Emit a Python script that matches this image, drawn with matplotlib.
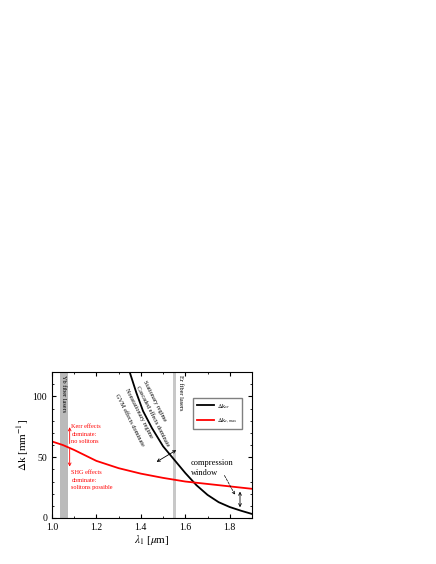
import numpy as np
import matplotlib.pyplot as plt
from matplotlib.ticker import MultipleLocator

plt.rcParams['font.family'] = ['Liberation Serif', 'DejaVu Serif']
plt.rcParams['mathtext.fontset'] = 'stix'

# data
lam_sr = [1.35, 1.38, 1.41, 1.45, 1.50, 1.55, 1.60, 1.65, 1.70, 1.75, 1.80, 1.85, 1.90]
dk_sr = [120, 103, 88, 74, 59, 48, 37, 27, 19, 13, 9, 6, 3.3]
lam_c = [1.00, 1.05, 1.10, 1.20, 1.30, 1.40, 1.50, 1.60, 1.70, 1.80, 1.90]
dk_c = [63, 60, 56, 47, 41, 36.5, 33, 30, 28, 26, 24]

fig = plt.figure(figsize=(4.36, 5.64), dpi=100)
ax = fig.add_axes([0.119, 0.0816, 0.459, 0.2585])

# fiber laser bands
ax.axvspan(1.035, 1.072, color='#bbbbbb', lw=0)
ax.axvspan(1.545, 1.558, color='#c8c8c8', lw=0)
ax.text(1.053, 118, 'Yb fiber lasers', rotation=-90, va='top', ha='center', fontsize=4.5)
ax.text(1.578, 118, 'Er fiber lasers', rotation=-90, va='top', ha='center', fontsize=4.5)

ax.plot(lam_sr, dk_sr, color='black', lw=1.3, label=r'$\Delta$k$_{sr}$')
ax.plot(lam_c, dk_c, color='red', lw=1.3, label=r'$\Delta$k$_{c,max}$')

# Kerr / SHG annotations
ax.annotate('', xy=(1.08, 77), xytext=(1.08, 59),
            arrowprops=dict(arrowstyle='->', color='red', lw=0.6, mutation_scale=5))
ax.annotate('', xy=(1.08, 40), xytext=(1.08, 59),
            arrowprops=dict(arrowstyle='->', color='red', lw=0.6, mutation_scale=5))
ax.text(1.088, 69, 'Kerr effects\ndominate:\nno solitons', color='red',
        fontsize=4.5, va='center', linespacing=1.6)
ax.text(1.088, 31, 'SHG effects\ndominate:\nsolitons possible', color='red',
        fontsize=4.5, va='center', linespacing=1.6)

# regime labels along the curve
for x, y, s in [(1.462, 96, 'Stationary regime'),
                (1.452, 84, 'Cascaded effects dominate'),
                (1.39, 86.5, 'Nonstationary regime'),
                (1.347, 80.5, 'GVM effects dominate')]:
    ax.text(x, y, s, rotation=-63, fontsize=4.5, ha='center', va='center',
            rotation_mode='anchor')
ax.annotate('', xy=(1.46, 45), xytext=(1.57, 57),
            arrowprops=dict(arrowstyle='<->', color='black', lw=0.6, mutation_scale=5))

# compression window
ax.text(1.625, 41, 'compression\nwindow', fontsize=6, va='center', ha='left',
        linespacing=1.3)
ax.annotate('', xy=(1.83, 17), xytext=(1.77, 37),
            arrowprops=dict(arrowstyle='->', color='black', lw=0.5, ls='--',
                            mutation_scale=5))
ax.annotate('', xy=(1.846, 6.5), xytext=(1.846, 24),
            arrowprops=dict(arrowstyle='<->', color='black', lw=0.6, mutation_scale=5))

ax.set_xlim(1.0, 1.9)
ax.set_ylim(0, 120)
ax.xaxis.set_major_locator(MultipleLocator(0.2))
ax.xaxis.set_minor_locator(MultipleLocator(0.1))
ax.yaxis.set_major_locator(MultipleLocator(50))
ax.yaxis.set_minor_locator(MultipleLocator(10))
ax.tick_params(which='both', direction='in', top=True, right=True, labelsize=7)
ax.tick_params(which='major', length=3)
ax.tick_params(which='minor', length=1.5)
ax.set_xticks([1.0, 1.2, 1.4, 1.6, 1.8])
ax.set_xticklabels(['1.0', '1.2', '1.4', '1.6', '1.8'])
ax.set_xlabel(r'$\lambda_1$ [$\mu$m]', fontsize=8, labelpad=1)
ax.set_ylabel(r'$\Delta$k [mm$^{-1}$]', fontsize=8, labelpad=1)

ax.legend(loc='upper right', bbox_to_anchor=(0.965, 0.845), fontsize=4.5,
          fancybox=False, edgecolor='gray', handlelength=2.8, borderpad=0.6,
          labelspacing=0.9, handletextpad=0.5, framealpha=1)

fig.savefig('out.png', dpi=100)
